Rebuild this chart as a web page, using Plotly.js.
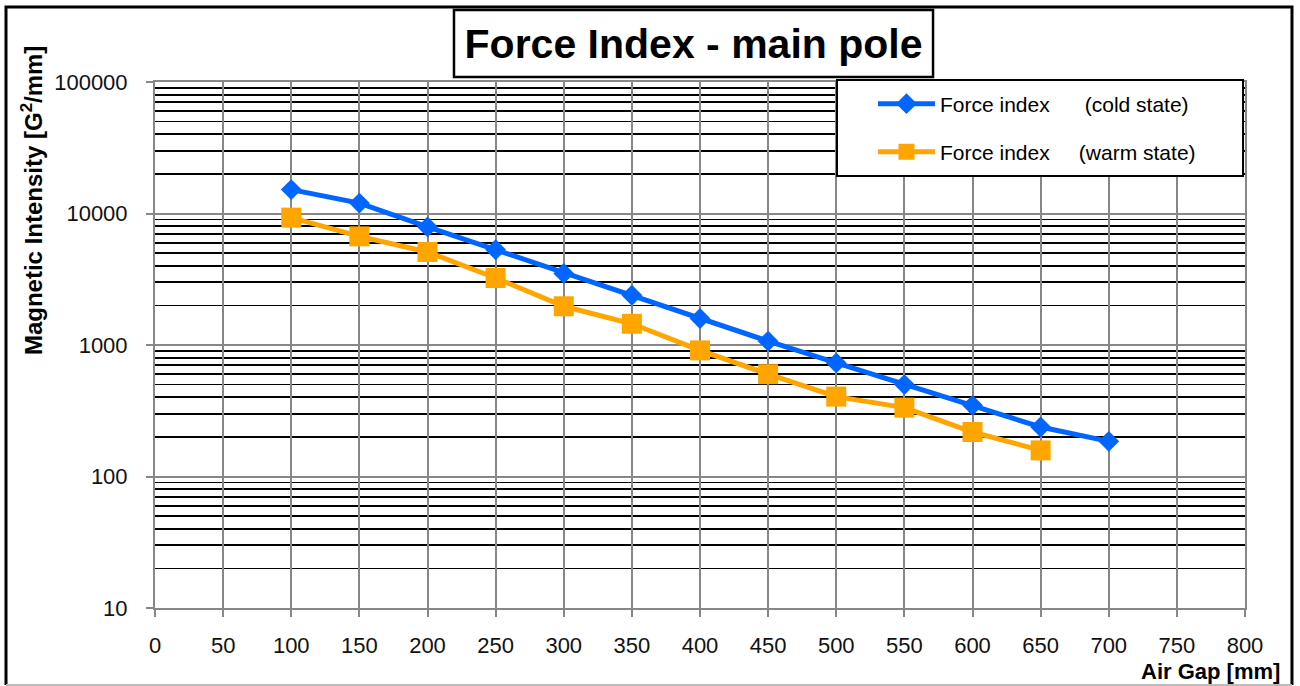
<!DOCTYPE html>
<html>
<head>
<meta charset="utf-8">
<script src="https://cdn.plot.ly/plotly-3.0.1.min.js"></script>
<style>html,body{margin:0;padding:0;background:#fff;}#chart{width:1300px;height:686px;}</style>
</head>
<body>
<div id="chart"></div>
<script>
// ---- data ----
const airGap = [100, 150, 200, 250, 300, 350, 400, 450, 500, 550, 600, 650, 700];
const coldState = [15200, 12000, 7900, 5300, 3500, 2390, 1590, 1070, 730, 500, 348, 238, 185];
const warmGap = [100, 150, 200, 250, 300, 350, 400, 450, 500, 550, 600, 650];
const warmState = [9300, 6700, 5100, 3230, 1970, 1450, 910, 600, 405, 334, 218, 158];
const xTicks = [0, 50, 100, 150, 200, 250, 300, 350, 400, 450, 500, 550, 600, 650, 700, 750, 800];
const yTickVals = [10, 100, 1000, 10000, 100000];
const yTickText = ['10', '100', '1000', '10000', '100000'];
const seriesNames = ['Force index\u00a0\u00a0\u00a0\u00a0\u00a0\u00a0(cold state)', 'Force index\u00a0\u00a0\u00a0\u00a0\u00a0(warm state)'];

const FONT = 'Liberation Sans, Arial, sans-serif';
const GRAY = '#878787';

const traces = [
  {x: airGap, y: coldState, name: seriesNames[0], type: 'scatter', mode: 'lines+markers',
   line: {color: '#0066FF', width: 5}, marker: {symbol: 'diamond', size: 16, color: '#0066FF'}, legend: 'legend', showlegend: true},
  {x: warmGap, y: warmState, name: seriesNames[1], type: 'scatter', mode: 'lines+markers',
   line: {color: '#FFA500', width: 5}, marker: {symbol: 'square', size: 20, color: '#FFA500'}, legend: 'legend2', showlegend: true}
];

const legendCommon = {x: 0.6587, xanchor: 'left', yanchor: 'middle', bgcolor: 'rgba(0,0,0,0)', borderwidth: 0,
  itemwidth: 57, font: {family: FONT, size: 21, color: '#000'}};

const layout = {
  width: 1300, height: 686,
  showlegend: true,
  paper_bgcolor: '#fff', plot_bgcolor: '#fff',
  margin: {l: 155, r: 55, t: 82, b: 78, pad: 0},
  font: {family: FONT, color: '#000'},
  title: {text: '<b>Force Index - main pole</b>', font: {family: FONT, size: 41, color: '#000'},
          x: 0.5335, xref: 'container', xanchor: 'center', y: 0.936, yref: 'container', yanchor: 'middle'},
  xaxis: {range: [0, 800], tickmode: 'array', tickvals: xTicks, ticktext: xTicks.map(String),
          showgrid: true, gridcolor: GRAY, gridwidth: 2, zeroline: false,
          showline: true, linecolor: GRAY, linewidth: 2, mirror: true,
          ticks: 'outside', ticklen: 7, tickcolor: GRAY, tickwidth: 2,
          tickfont: {family: FONT, size: 22, color: '#111'}, ticklabelstandoff: 10},
  yaxis: {type: 'log', range: [1, 5], tickmode: 'array', tickvals: yTickVals, ticktext: yTickText,
          showgrid: true, gridcolor: GRAY, gridwidth: 2, zeroline: false,
          showline: true, linecolor: GRAY, linewidth: 2, mirror: true,
          ticks: 'outside', ticklen: 7, tickcolor: GRAY, tickwidth: 2,
          tickfont: {family: FONT, size: 22, color: '#111'}, ticklabelstandoff: 14,
          minor: {tickmode: 'linear', dtick: 'D1', showgrid: true, gridcolor: '#000', gridwidth: 1.8, ticks: ''}},
  legend: Object.assign({}, legendCommon, {y: (608 - 104) / 526}),
  legend2: Object.assign({}, legendCommon, {y: (608 - 152) / 526}),
  shapes: [
    // outer frame
    {type: 'path', xref: 'paper', yref: 'paper', path: 'M -0.1367 -0.1464 L -0.1367 1.1426 L 1.0431 1.1426 L 1.0431 -0.1464',
     line: {color: '#000', width: 3}},
    {type: 'line', xref: 'paper', yref: 'paper', x0: -0.1367, x1: 1.0431, y0: -0.1464, y1: -0.1464, line: {color: '#bbb', width: 2}},
    // title box
    {type: 'rect', xref: 'paper', yref: 'paper', x0: 0.2743, x1: 0.7138, y0: 1.0095, y1: 1.1369,
     line: {color: '#000', width: 2.5}, fillcolor: '#fff', layer: 'below'},
    // legend box
    {type: 'rect', xref: 'paper', yref: 'paper', x0: 0.6257, x1: 0.9982, y0: 0.8213, y1: 1.0038,
     line: {color: '#000', width: 2}, fillcolor: '#fff', layer: 'above'}
  ],
  annotations: [
    {text: '<b>Magnetic Intensity [G<sup>2</sup>/mm]</b>', xref: 'paper', yref: 'paper', x: -0.1128, y: (608 - 201) / 526,
     xanchor: 'center', yanchor: 'middle', textangle: -90, showarrow: false, font: {family: FONT, size: 24, color: '#000'}},
    {text: '<b>Air Gap [mm]</b>', xref: 'paper', yref: 'paper', x: 1.034, y: (608 - 671) / 526,
     xanchor: 'right', yanchor: 'middle', showarrow: false, font: {family: FONT, size: 22, color: '#000'}}
  ]
};

Plotly.newPlot('chart', traces, layout, {displayModeBar: false, staticPlot: true});
</script>
</body>
</html>
